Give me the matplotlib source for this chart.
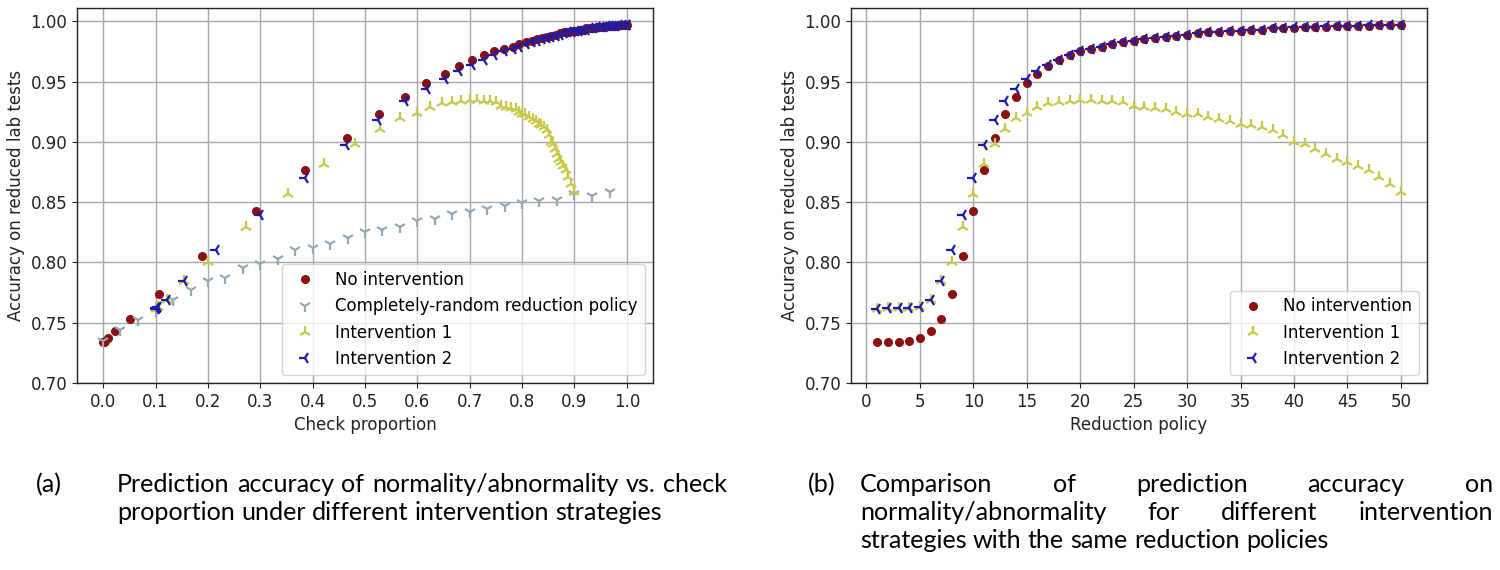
import matplotlib
matplotlib.use("Agg")
import matplotlib.pyplot as plt
import numpy as np

# ---------------- data ----------------
policy = list(range(1, 51))

noint_acc = [0.7336, 0.734, 0.7342, 0.735, 0.737, 0.743, 0.753, 0.774, 0.805, 0.843,
             0.877, 0.903, 0.923, 0.937, 0.949, 0.956, 0.963, 0.968, 0.972, 0.975,
             0.977, 0.979, 0.981, 0.983, 0.984, 0.985, 0.986, 0.987, 0.988, 0.989,
             0.990, 0.991, 0.991, 0.992, 0.992, 0.993, 0.993, 0.994, 0.994, 0.994,
             0.995, 0.995, 0.995, 0.996, 0.996, 0.996, 0.996, 0.997, 0.997, 0.997]
noint_check = [0.000, 0.001, 0.002, 0.004, 0.009, 0.023, 0.052, 0.106, 0.189, 0.291,
               0.385, 0.466, 0.527, 0.577, 0.616, 0.652, 0.679, 0.704, 0.727, 0.747,
               0.766, 0.783, 0.795, 0.808, 0.818, 0.828, 0.838, 0.847, 0.856, 0.864,
               0.872, 0.880, 0.888, 0.895, 0.902, 0.909, 0.916, 0.923, 0.930, 0.937,
               0.944, 0.950, 0.956, 0.962, 0.968, 0.974, 0.980, 0.986, 0.993, 1.000]

int1_acc = [0.7614, 0.762, 0.762, 0.762, 0.763, 0.769, 0.785, 0.800, 0.829, 0.857,
            0.882, 0.898, 0.911, 0.920, 0.924, 0.929, 0.932, 0.933, 0.934, 0.935,
            0.935, 0.934, 0.934, 0.933, 0.930, 0.929, 0.928, 0.927, 0.925, 0.923,
            0.923, 0.921, 0.919, 0.917, 0.915, 0.914, 0.912, 0.910, 0.906, 0.900,
            0.898, 0.894, 0.890, 0.886, 0.883, 0.880, 0.877, 0.871, 0.865, 0.858]
int1_check = [0.100, 0.101, 0.102, 0.103, 0.105, 0.121, 0.154, 0.200, 0.272, 0.352,
              0.421, 0.480, 0.529, 0.567, 0.600, 0.625, 0.647, 0.667, 0.684, 0.700,
              0.714, 0.727, 0.739, 0.750, 0.760, 0.770, 0.779, 0.788, 0.794, 0.800,
              0.806, 0.813, 0.820, 0.826, 0.832, 0.837, 0.842, 0.847, 0.851, 0.855,
              0.859, 0.863, 0.867, 0.871, 0.875, 0.879, 0.883, 0.888, 0.894, 0.900]

int2_acc = [0.7614, 0.762, 0.762, 0.762, 0.763, 0.769, 0.785, 0.810, 0.839, 0.870,
            0.897, 0.918, 0.934, 0.944, 0.952, 0.959, 0.964, 0.968, 0.972, 0.975,
            0.977, 0.979, 0.981, 0.983, 0.984, 0.985, 0.986, 0.987, 0.988, 0.989,
            0.990, 0.991, 0.991, 0.992, 0.992, 0.993, 0.993, 0.994, 0.994, 0.995,
            0.995, 0.995, 0.996, 0.996, 0.996, 0.996, 0.997, 0.997, 0.997, 0.997]
int2_check = [0.100, 0.101, 0.102, 0.103, 0.105, 0.121, 0.154, 0.215, 0.300, 0.385,
              0.464, 0.525, 0.577, 0.619, 0.652, 0.679, 0.704, 0.727, 0.747, 0.766,
              0.783, 0.795, 0.808, 0.818, 0.828, 0.838, 0.847, 0.856, 0.864, 0.872,
              0.880, 0.888, 0.895, 0.902, 0.909, 0.916, 0.923, 0.930, 0.937, 0.944,
              0.950, 0.956, 0.962, 0.968, 0.974, 0.980, 0.986, 0.993, 1.000, 1.000]

rand_check = [0.000, 0.033, 0.067, 0.100, 0.133, 0.167, 0.200, 0.233, 0.267, 0.300,
              0.333, 0.367, 0.400, 0.433, 0.467, 0.500, 0.533, 0.567, 0.600, 0.633,
              0.667, 0.700, 0.733, 0.767, 0.800, 0.833, 0.867, 0.900, 0.933, 0.967]
rand_acc = [0.735, 0.744, 0.752, 0.760, 0.769, 0.777, 0.785, 0.787, 0.795, 0.799,
            0.803, 0.810, 0.812, 0.815, 0.820, 0.825, 0.827, 0.829, 0.834, 0.836,
            0.840, 0.842, 0.844, 0.847, 0.849, 0.851, 0.852, 0.857, 0.855, 0.858]

labels = ["No intervention", "Completely-random reduction policy",
          "Intervention 1", "Intervention 2"]
xticks_a = [0.0, 0.1, 0.2, 0.3, 0.4, 0.5, 0.6, 0.7, 0.8, 0.9, 1.0]
xticks_b = [0, 5, 10, 15, 20, 25, 30, 35, 40, 45, 50]
yticks = [0.70, 0.75, 0.80, 0.85, 0.90, 0.95, 1.00]

caption_a = ["Prediction accuracy of normality/abnormality vs. check",
             "proportion under different intervention strategies"]
caption_b = ["Comparison of prediction accuracy on",
             "normality/abnormality for different intervention",
             "strategies with the same reduction policies"]

# ---------------- styles ----------------
C_RED = "#8b1010"
C_GREY = "#94a8b8"
C_YEL = "#c8c848"
C_BLUE = "#1c1ca8"

W, H = 1500, 570
plt.rcParams["font.family"] = "DejaVu Sans"
plt.rcParams["font.size"] = 12
fig = plt.figure(figsize=(W / 100, H / 100), dpi=100)

def px_axes(x0, y0, x1, y1):
    return fig.add_axes([x0 / W, 1 - y1 / H, (x1 - x0) / W, (y1 - y0) / H])

axA = px_axes(77, 8, 653, 383)
axB = px_axes(851, 8, 1427, 383)

def style(ax):
    ax.grid(True, color="#a8a8a8", linewidth=1.0)
    ax.set_axisbelow(True)
    for s in ax.spines.values():
        s.set_linewidth(1.0)
        s.set_color("#222222")
    ax.set_ylim(0.70, 1.011)
    ax.set_yticks(yticks)
    ax.set_yticklabels([f"{v:.2f}" for v in yticks])
    ax.tick_params(labelsize=12, colors="#222222")
    ax.set_ylabel("Accuracy on reduced lab tests", fontsize=12, color="#222222")

# ---- panel a ----
axA.plot(noint_check, noint_acc, "o", color=C_RED, ms=5.5, label=labels[0])
axA.plot(rand_check, rand_acc, "1", color=C_GREY, ms=9, mew=1.6, label=labels[1])
axA.plot(int1_check, int1_acc, "2", color=C_YEL, ms=9, mew=1.6, label=labels[2])
axA.plot(int2_check, int2_acc, "3", color=C_BLUE, ms=9, mew=1.6, label=labels[3])
axA.set_xlim(-0.05, 1.05)
axA.set_xticks(xticks_a)
axA.set_xticklabels([f"{v:.1f}" for v in xticks_a])
axA.set_xlabel("Check proportion", fontsize=12, color="#222222")
style(axA)
axA.legend(loc="lower right", fontsize=12, framealpha=0.8)

# ---- panel b ----
axB.plot(policy, noint_acc, "o", color=C_RED, ms=5.5, label=labels[0])
axB.plot(policy, int1_acc, "2", color=C_YEL, ms=9, mew=1.6, label=labels[2])
axB.plot(policy, int2_acc, "3", color=C_BLUE, ms=9, mew=1.6, label=labels[3])
axB.set_xlim(-1.45, 52.45)
axB.set_xticks(xticks_b)
axB.set_xlabel("Reduction policy", fontsize=12, color="#222222")
style(axB)
axB.legend(loc="lower right", fontsize=12, framealpha=0.8)

# ---------------- captions (justified text) ----------------
renderer = fig.canvas.get_renderer()
CAP_FONT = "Lato"

def text_w(s, fs):
    t = fig.text(0, 0, s, fontsize=fs, fontfamily=CAP_FONT)
    w = t.get_window_extent(renderer=renderer).width
    t.remove()
    return w

# font size chosen so the first line of caption (a) fits 117..727 px
fs_ref = 15
fs = fs_ref * 606.0 / text_w(caption_a[0], fs_ref)

def draw_line(line, x0, x1, y, justify):
    words = line.split()
    widths = [text_w(w_, fs) for w_ in words]
    space = text_w("a b", fs) - text_w("ab", fs)
    if justify and len(words) > 1:
        gap = max((x1 - x0 - sum(widths)) / (len(words) - 1), space * 0.8)
    else:
        gap = space
    x = x0
    for w_, ww in zip(words, widths):
        fig.text(x / W, 1 - y / H, w_, fontsize=fs, fontfamily=CAP_FONT,
                 ha="left", va="center", color="black")
        x += ww + gap

line_y = [485, 513, 541]
fig.text(36 / W, 1 - line_y[0] / H, "(a)", fontsize=fs, fontfamily=CAP_FONT,
         ha="left", va="center")
for i, ln in enumerate(caption_a):
    draw_line(ln, 117, 727, line_y[i], justify=(i < len(caption_a) - 1))

fig.text(808 / W, 1 - line_y[0] / H, "(b)", fontsize=fs, fontfamily=CAP_FONT,
         ha="left", va="center")
for i, ln in enumerate(caption_b):
    draw_line(ln, 860, 1493, line_y[i], justify=(i < len(caption_b) - 1))

fig.savefig("out.png", dpi=100)
